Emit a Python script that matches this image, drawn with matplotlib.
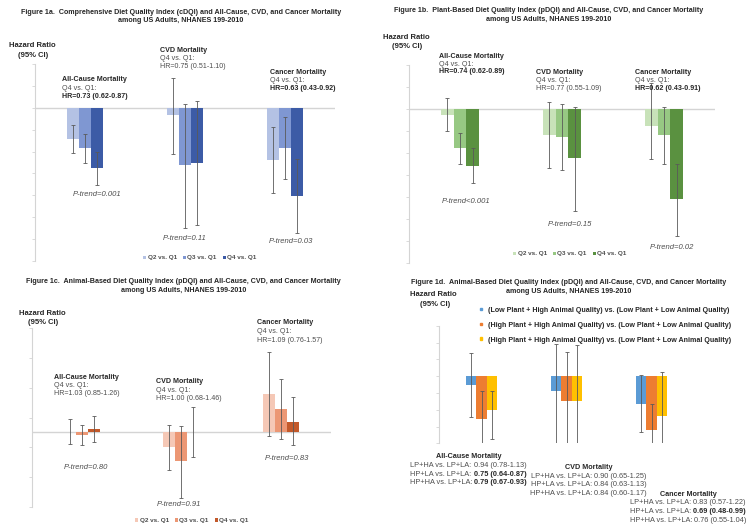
import numpy as np
import matplotlib
matplotlib.use("Agg")
import matplotlib.pyplot as plt
from matplotlib.patches import Rectangle

plt.rcParams['font.family'] = ['Liberation Sans', 'DejaVu Sans']

W, H = 756, 529

quart_labels = ['Q2 vs. Q1', 'Q3 vs. Q1', 'Q4 vs. Q1']
combo_labels = ['(Low Plant + High Animal Quality) vs. (Low Plant + Low Animal Quality)',
                '(High Plant + High Animal Quality) vs. (Low Plant + Low Animal Quality)',
                '(High Plant + High Animal Quality) vs. (Low Plant + Low Animal Quality)']

# bar ends and error-bar ends as drawn, one row per series,
# columns = all-cause, CVD, cancer
a_hr = [[0.856, 0.965, 0.760], [0.816, 0.738, 0.816], [0.723, 0.748, 0.597]]
a_lo = [[0.795, 0.790, 0.612], [0.748, 0.453, 0.673], [0.647, 0.465, 0.427]]
a_hi = [[0.920, 1.136, 0.912], [0.879, 1.018, 0.957], [0.800, 1.030, 0.768]]

b_hr = [[0.970, 0.880, 0.920], [0.820, 0.870, 0.880], [0.740, 0.775, 0.590]]
b_lo = [[0.900, 0.730, 0.770], [0.750, 0.720, 0.750], [0.660, 0.535, 0.420]]
b_hi = [[1.050, 1.030, 1.115], [0.890, 1.020, 1.010], [0.820, 1.010, 0.750]]

c_hr = [[1.003, 0.900, 1.260], [0.985, 0.805, 1.157], [1.023, 1.000, 1.070]]
c_lo = [[0.920, 0.744, 0.978], [0.913, 0.560, 0.958], [0.935, 0.832, 0.913]]
c_hi = [[1.090, 1.047, 1.540], [1.047, 1.045, 1.360], [1.112, 1.171, 1.238]]

d_hr = [[0.946, 0.910, 0.836], [0.747, 0.850, 0.677], [0.796, 0.850, 0.760]]
d_lo = [[0.755, 0.575, 0.665], [0.591, 0.545, 0.515], [0.627, 0.505, 0.497]]
d_hi = [[1.140, 1.190, 1.004], [0.910, 1.146, 0.836], [0.910, 1.184, 1.024]]

p_a = ['P-trend=0.001', 'P-trend=0.11', 'P-trend=0.03']
p_b = ['P-trend<0.001', 'P-trend=0.15', 'P-trend=0.02']
p_c = ['P-trend=0.80', 'P-trend=0.91', 'P-trend=0.83']

fig = plt.figure(figsize=(7.56, 5.29), dpi=100)
renderer = fig.canvas.get_renderer()

DARK = '#262626'
GREY = '#4d4d4d'
FS = 5.1


def add_ax(x0, y0, x1, y1):
    return fig.add_axes([x0 / W, 1 - y1 / H, (x1 - x0) / W, (y1 - y0) / H])


def txt(x, y, s, size=FS, weight='normal', style='normal', color=GREY, ha='left'):
    return fig.text(x / W, 1 - y / H, s, ha=ha, va='center', fontsize=size,
                    fontweight=weight, fontstyle=style, color=color)


def mixed(xc, y, parts, size=5.3):
    items, total = [], 0
    for s, w in parts:
        t = fig.text(0, 0, s, fontsize=size, fontweight=w, va='center', ha='left',
                     color=DARK if w == 'bold' else GREY)
        wd = t.get_window_extent(renderer).width
        items.append((t, wd))
        total += wd
    x = xc - total / 2
    for t, wd in items:
        t.set_position((x / W, 1 - y / H))
        x += wd


def panel(ax, hr, lo, hi, colors, width, ylim, ticks, baseline=True):
    hr, lo, hi = np.array(hr), np.array(lo), np.array(hi)
    bars = []
    for i in range(3):
        x = np.arange(3) + (i - 1) * width
        b = ax.bar(x, hr[i] - 1, width=width, bottom=1, color=colors[i], zorder=2)
        bars.append(b)
        ax.errorbar(x, hr[i], yerr=[hr[i] - lo[i], hi[i] - hr[i]], fmt='none',
                    ecolor='#595959', elinewidth=0.6, capsize=1.1, capthick=0.6, zorder=3)
    if baseline:
        ax.axhline(1, color='#d4d4d4', lw=1.0, zorder=1)
    ax.set_xlim(-0.5, 2.5)
    ax.set_ylim(*ylim)
    ax.set_yticks(ticks)
    ax.set_xticks([])
    ax.tick_params(axis='y', length=2.5, width=0.6, color='#d4d4d4', labelleft=False)
    for s in ['top', 'right', 'bottom']:
        ax.spines[s].set_visible(False)
    ax.spines['left'].set_color('#d4d4d4')
    ax.spines['left'].set_linewidth(0.8)
    ax.patch.set_alpha(0)
    return bars


def legend3(ax, bars, cx, cy):
    leg = ax.legend([b[0] for b in bars], quart_labels, loc='center',
                    bbox_to_anchor=(cx / W, 1 - cy / H), bbox_transform=fig.transFigure,
                    ncol=3, frameon=False, handlelength=0.45, handleheight=0.45,
                    handletextpad=0.2, columnspacing=1.0, borderpad=0,
                    prop={'size': 4.6, 'weight': 'bold'})
    for t in leg.get_texts():
        t.set_color(GREY)


def block(x, y0, y1, y2, name, hr_text, hr_bold):
    txt(x, y0, name, weight='bold', color=DARK)
    txt(x, y1, 'Q4 vs. Q1:')
    txt(x, y2, hr_text, weight='bold' if hr_bold else 'normal',
        color=DARK if hr_bold else GREY)


def title(cx, y, name):
    txt(cx, y, name, size=5.1, weight='bold', color=DARK, ha='center')
    txt(cx, y + 8.5, 'among US Adults, NHANES 199-2010', size=5.1, weight='bold',
        color=DARK, ha='center')


def hr_label(cx, y):
    txt(cx, y, 'Hazard Ratio', size=5.5, weight='bold', color=DARK, ha='center')
    txt(cx + 1, y + 9.5, '(95% CI)', size=5.5, weight='bold', color=DARK, ha='center')


# ---- Figure 1a
ax = add_ax(35, 64, 335, 261)
bars = panel(ax, a_hr, a_lo, a_hi, ['#b4c2e4', '#7f97d2', '#3c5ba6'], 0.12,
             (0.3, 1.2), np.arange(0.3, 1.21, 0.1))
legend3(ax, bars, 200, 258)
title(181, 12.3, 'Figure 1a.  Comprehensive Diet Quality Index (cDQI) and All-Cause, CVD, and Cancer Mortality')
hr_label(32.5, 45.7)
block(62, 79.5, 88, 96.3, 'All-Cause Mortality', 'HR=0.73 (0.62-0.87)', True)
block(160, 50, 58.5, 67, 'CVD Mortality', 'HR=0.75 (0.51-1.10)', False)
block(269.5, 72, 80.5, 89, 'Cancer Mortality', 'HR=0.63 (0.43-0.92)', True)
for s, (x, y) in zip(p_a, [(96.7, 194), (184.7, 239), (290.5, 242)]):
    txt(x, y, s, size=5.5, style='italic', ha='center')

# ---- Figure 1b
ax = add_ax(409, 64.7, 715, 262.7)
bars = panel(ax, b_hr, b_lo, b_hi, ['#c8e2b9', '#97c883', '#5a9140'], 0.125,
             (0.3, 1.2), np.arange(0.3, 1.21, 0.1))
legend3(ax, bars, 570, 254)
title(549, 11, 'Figure 1b.  Plant-Based Diet Quality Index (pDQI) and All-Cause, CVD, and Cancer Mortality')
hr_label(406.3, 37.3)
block(439, 56, 64, 71.5, 'All-Cause Mortality', 'HR=0.74 (0.62-0.89)', True)
block(535.7, 72, 80.5, 89, 'CVD Mortality', 'HR=0.77 (0.55-1.09)', False)
block(634.7, 72, 80.5, 89, 'Cancer Mortality', 'HR=0.62 (0.43-0.91)', True)
for s, (x, y) in zip(p_b, [(466, 201.7), (570, 224.3), (672, 247.7)]):
    txt(x, y, s, size=5.5, style='italic', ha='center')

# ---- Figure 1c
ax = add_ax(31.7, 328.3, 331, 506.7)
bars = panel(ax, c_hr, c_lo, c_hi, ['#f5c8b6', '#ec9774', '#c3592a'], 0.12,
             (0.5, 1.7), np.arange(0.5, 1.71, 0.2))
legend3(ax, bars, 192, 520.7)
title(183.7, 281.7, 'Figure 1c.  Animal-Based Diet Quality Index (pDQI) and All-Cause, CVD, and Cancer Mortality')
hr_label(42.5, 313.3)
block(54, 377.7, 385.7, 393.7, 'All-Cause Mortality', 'HR=1.03 (0.85-1.26)', False)
block(156, 381.7, 390.3, 398.3, 'CVD Mortality', 'HR=1.00 (0.68-1.46)', False)
block(256.7, 322.7, 331.7, 340, 'Cancer Mortality', 'HR=1.09 (0.76-1.57)', False)
for s, (x, y) in zip(p_c, [(85.8, 467.7), (179.3, 505), (286.7, 459)]):
    txt(x, y, s, size=5.5, style='italic', ha='center')

# ---- Figure 1d
d_colors = ['#5b9bd5', '#ed7d31', '#ffc000']
ax = add_ax(439, 325.7, 694, 443.3)
panel(ax, d_hr, d_lo, d_hi, d_colors, 0.125, (0.6, 1.3),
      np.arange(0.6, 1.31, 0.1), baseline=False)
title(569, 282.7, 'Figure 1d.  Animal-Based Diet Quality Index (pDQI) and All-Cause, CVD, and Cancer Mortality')
hr_label(433.7, 295)
for lab, col, y in zip(combo_labels, d_colors, [310.7, 325.3, 340]):
    fig.patches.append(Rectangle(((480.3) / W, 1 - (y - 0.5) / H), 2.2 / W, 2.2 / H,
                                 transform=fig.transFigure, color=col))
    txt(488, y, lab, size=5.15, weight='bold', color=DARK)

d_blocks = [
    (468.3, 456.7, 'All-Cause Mortality',
     [('0.94 (0.78-1.13)', False), ('0.75 (0.64-0.87)', True), ('0.79 (0.67-0.93)', True)]),
    (588.5, 467.3, 'CVD Mortality',
     [('0.90 (0.65-1.25)', False), ('0.84 (0.63-1.13)', False), ('0.84 (0.60-1.17)', False)]),
    (688, 494.3, 'Cancer Mortality',
     [('0.83 (0.57-1.22)', False), ('0.69 (0.48-0.99)', True), ('0.76 (0.55-1.04)', False)]),
]
prefixes = ['LP+HA vs. LP+LA: ', 'HP+LA vs. LP+LA: ', 'HP+HA vs. LP+LA: ']
for cx, y0, name, rows in d_blocks:
    txt(cx, y0, name, size=5.2, weight='bold', color=DARK, ha='center')
    for k, (pre, (val, bold)) in enumerate(zip(prefixes, rows)):
        mixed(cx, y0 + 8.7 * (k + 1), [(pre, 'normal'), (val, 'bold' if bold else 'normal')])

fig.savefig('out.png', dpi=100)
